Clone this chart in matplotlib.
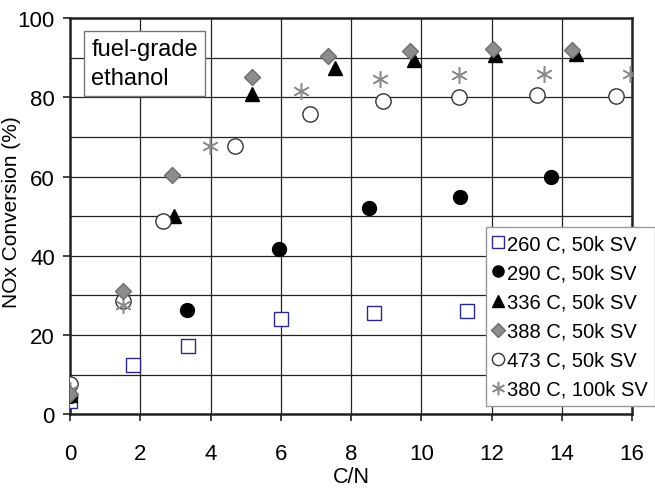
import matplotlib
matplotlib.use("Agg")
import matplotlib.pyplot as plt
from matplotlib.ticker import MultipleLocator

plt.rcParams['font.family'] = ['Liberation Sans', 'DejaVu Sans']

# C/N ratio and NOx conversion (%) for each catalyst condition
cn_260 = [0, 1.8, 3.35, 6.0, 8.65, 11.3]
nox_260 = [3.4, 12.4, 17.2, 24.0, 25.6, 26.0]

cn_290 = [0, 3.33, 5.96, 8.52, 11.1, 13.7]
nox_290 = [4.5, 26.2, 41.8, 52.0, 54.8, 59.8]

cn_336 = [0, 1.5, 2.97, 5.18, 7.55, 9.8, 12.1, 14.4]
nox_336 = [4.8, 30.0, 50.0, 80.8, 87.3, 89.5, 90.8, 91.0]

cn_388 = [0, 1.5, 2.9, 5.18, 7.35, 9.69, 12.05, 14.3]
nox_388 = [5.2, 31.0, 60.3, 85.2, 90.4, 91.8, 92.2, 92.0]

cn_473 = [0, 1.5, 2.64, 4.7, 6.84, 8.9, 11.08, 13.28, 15.53]
nox_473 = [7.6, 28.6, 48.8, 67.8, 75.8, 79.0, 80.1, 80.5, 80.3]

cn_380 = [0, 1.5, 3.97, 6.58, 8.83, 11.08, 13.5, 15.95]
nox_380 = [6.0, 27.6, 67.8, 81.5, 84.6, 85.6, 86.0, 86.0]

fig = plt.figure(figsize=(6.55, 4.89), dpi=100)
ax = fig.add_axes([0.107, 0.151, 0.858, 0.810])

ax.plot(cn_260, nox_260, ls='none', marker='s', ms=10, mfc='white',
        mec='#2a2a8c', mew=1.0, label='260 C, 50k SV', zorder=3)
ax.plot(cn_290, nox_290, ls='none', marker='o', ms=10, mfc='black',
        mec='black', label='290 C, 50k SV', zorder=3)
ax.plot(cn_336, nox_336, ls='none', marker='^', ms=10, mfc='black',
        mec='black', label='336 C, 50k SV', zorder=3)
ax.plot(cn_388, nox_388, ls='none', marker='D', ms=8.5, mfc='#8c8c8c',
        mec='#6e6e6e', label='388 C, 50k SV', zorder=4)
ax.plot(cn_473, nox_473, ls='none', marker='o', ms=11, mfc='white',
        mec='#333333', mew=1.0, label='473 C, 50k SV', zorder=3)
ax.plot(cn_380, nox_380, ls='none', marker=(6, 2, 0), ms=12,
        mec='#8a8a8a', mew=1.1, label='380 C, 100k SV', zorder=3)

ax.set_xlim(0, 16)
ax.set_ylim(0, 100)
ax.xaxis.set_major_locator(MultipleLocator(2))
ax.yaxis.set_major_locator(MultipleLocator(20))
ax.yaxis.set_minor_locator(MultipleLocator(10))
ax.grid(True, which='both', color='#222222', lw=0.9)
ax.set_axisbelow(True)
ax.tick_params(which='both', direction='out', length=5, width=1.2,
               labelsize=16, color='#222222', pad=6)
ax.tick_params(axis='x', pad=16)
ax.tick_params(which='minor', length=0)
for s in ax.spines.values():
    s.set_linewidth(1.8)
    s.set_color('#222222')

ax.set_xlabel('C/N', fontsize=15.5, labelpad=1)
ax.set_ylabel('NOx Conversion (%)', fontsize=15)
ax.yaxis.set_label_coords(-0.087, 0.513)

ax.text(0.6, 88.5, 'fuel-grade\nethanol', fontsize=17, va='center', ha='left',
        linespacing=1.4,
        bbox=dict(boxstyle='square,pad=0.3', fc='white', ec='#777777', lw=1.0))

leg = ax.legend(loc='lower right', bbox_to_anchor=(1.0, 0.168),
                bbox_transform=fig.transFigure, fontsize=14.5,
                frameon=True, fancybox=False, edgecolor='#999999',
                framealpha=1.0, handlelength=0.5, handletextpad=0.2,
                borderpad=0.35, labelspacing=0.5, borderaxespad=0,
                markerscale=0.8)
leg.get_frame().set_linewidth(1.0)
leg.set_zorder(10)

fig.savefig('out.png', dpi=100)
